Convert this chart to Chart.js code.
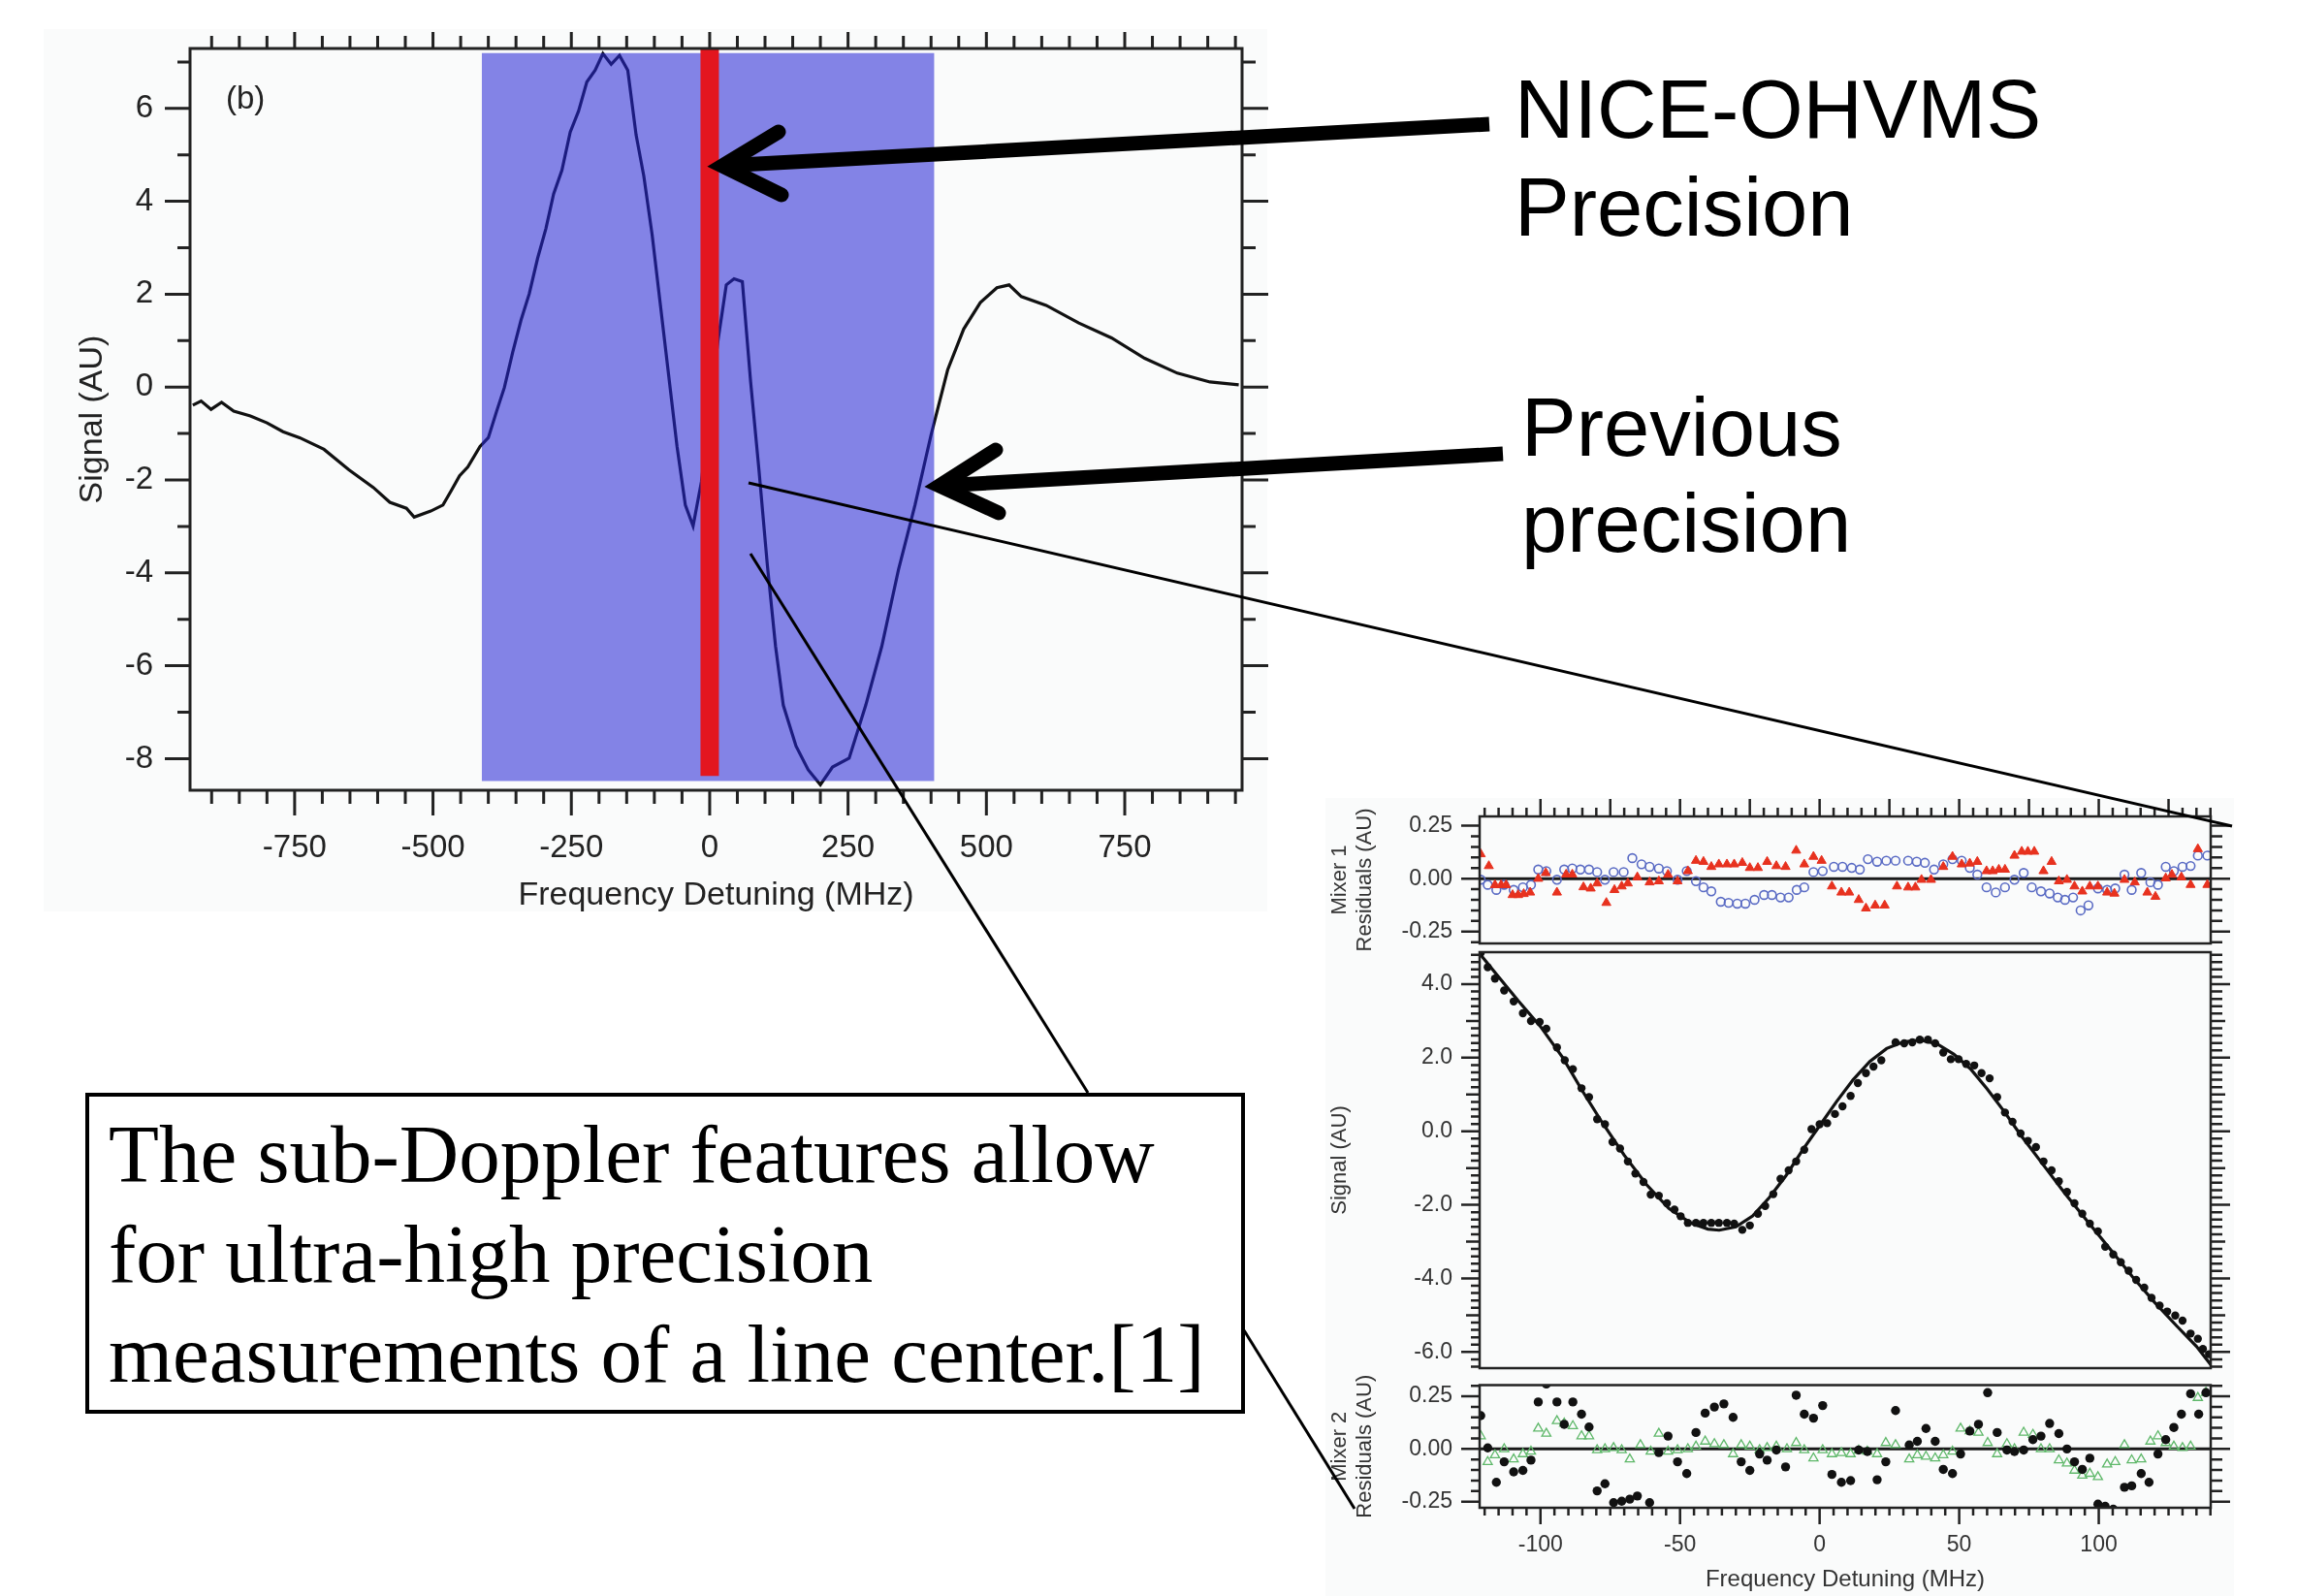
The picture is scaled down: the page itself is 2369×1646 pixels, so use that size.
<!DOCTYPE html>
<html>
<head>
<meta charset="utf-8">
<script src="https://cdn.jsdelivr.net/npm/chart.js@4.4.1/dist/chart.umd.min.js"></script>
<style>
  html, body { margin: 0; padding: 0; background: #fff; }
  body { width: 2369px; height: 1646px; position: relative; overflow: hidden;
         font-family: "Liberation Sans", Arial, sans-serif; }
  canvas { position: absolute; }
  .panel { position: absolute; background: #fafbfb; }
  .note { position: absolute; font-size: 85px; color: #000; white-space: nowrap; }
  .box { position: absolute; left: 88px; top: 1127px; width: 1196px; height: 331px; box-sizing: border-box;
         border: 4px solid #000; background: #fff; padding: 8px 0 0 20px;
         font-family: "Liberation Serif", "Times New Roman", serif; font-size: 85px; line-height: 103px; white-space: nowrap; }
  svg { position: absolute; left: 0; top: 0; }
</style>
</head>
<body>
<div class="panel" style="left:45px;top:30px;width:1262px;height:910px"></div>
<div class="panel" style="left:1367px;top:823px;width:937px;height:823px"></div>

<canvas id="main" width="1320" height="960" style="left:0;top:0"></canvas>
<canvas id="mix1" width="960" height="190" style="left:1360px;top:800px"></canvas>
<canvas id="sig" width="960" height="450" style="left:1360px;top:975px"></canvas>
<canvas id="mix2" width="960" height="231" style="left:1360px;top:1415px"></canvas>

<div class="note" style="left:233px;top:82px;font-size:33px;color:#222">(b)</div>

<svg width="2369" height="1646">
  <g stroke="#000" fill="none">
    <line x1="745" y1="171" x2="1536" y2="128" stroke-width="15"/>
    <polyline points="803,136 745,171 806,201" stroke-width="15" stroke-linecap="round" stroke-linejoin="miter"/>
    <line x1="969" y1="501" x2="1550" y2="468" stroke-width="15"/>
    <polyline points="1027,464 969,501 1030,529" stroke-width="15" stroke-linecap="round" stroke-linejoin="miter"/>
    <line x1="772" y1="498" x2="2302" y2="852" stroke-width="3"/>
    <line x1="774" y1="571" x2="1122" y2="1127" stroke-width="3"/>
    <line x1="1283" y1="1372" x2="1397" y2="1556" stroke-width="3"/>
  </g>
</svg>

<div class="note" style="left:1562px;top:62px;line-height:101px">NICE-OHVMS<br>Precision</div>
<div class="note" style="left:1569px;top:391px;line-height:99px">Previous<br>precision</div>
<div class="box">The sub-Doppler features allow<br>for ultra-high precision<br>measurements of a line center.[1]</div>

<script>
// ---- main spectrum (b) ----
const mainFreq = [-934,-919,-901,-882,-860,-830,-800,-771,-741,-697,-652,-608,-578,-548,-534,-504,-482,-467,-452,-437,
  -415,-400,-385,-371,-356,-341,-326,-311,-296,-282,-267,-252,-237,-222,-207,-193,-178,-163,-148,-133,
  -119,-104,-89,-74,-59,-44,-30,-15,0,15,30,44,59,74,89,104,119,133,156,178,
  200,222,252,282,311,341,371,400,430,459,489,519,541,563,608,667,726,786,845,904,956];
const mainSignal = [-0.39,-0.30,-0.48,-0.33,-0.52,-0.62,-0.77,-0.96,-1.09,-1.34,-1.78,-2.16,-2.48,-2.61,-2.80,-2.67,-2.54,-2.23,-1.91,-1.72,
  -1.28,-1.09,-0.52,-0.01,0.75,1.44,2.01,2.77,3.41,4.16,4.67,5.49,5.94,6.57,6.82,7.18,6.95,7.14,6.82,5.43,
  4.54,3.28,1.76,0.24,-1.28,-2.54,-2.99,-2.04,-0.52,1.0,2.20,2.33,2.27,0.11,-1.78,-3.81,-5.58,-6.85,-7.73,-8.24,
  -8.56,-8.18,-7.99,-6.85,-5.58,-3.94,-2.54,-1.03,0.37,1.25,1.82,2.14,2.20,1.95,1.76,1.38,1.06,0.62,0.30,0.11,0.05];
const mainXTicks = [-750,-500,-250,0,250,500,750];
const mainYTicks = [-8,-6,-4,-2,0,2,4,6];
const prevBandFreq = [-412, 406];      // previous precision window
const prevBandSignal = [-8.48, 7.19];
const niceFreq = 0;                    // NICE-OHVMS line centre
const niceSpan = [-8.37, 7.29];

// ---- inset: mixer 1 residuals ----
const m1RedX = [-121.4,-118.5,-116.3,-114.1,-112.3,-110,-108,-106,-103.7,-100.8,-98.1,-94.1,-90.8,-88.6,-84.6,-82,-79.7,-76.4,-73.5,-70.9,-68.7,-65.3,-60.9,-57.6,-54.3,-50.9,-47.2,-44.3,-41.6,-38.8,-36.1,-33.2,-30.6,-27.7,-25,-22.1,-18.8,-15.5,-12.2,-8.4,-5.5,-2.2,0.7,4.4,7.8,10.6,14,16.6,19.9,23.3,27.7,31.7,34.3,36.5,39.9,44.3,47.6,50.9,53.8,56.5,59.8,62,64.2,66.4,69.8,72.4,74.6,76.9,80.2,83.1,85.7,88.6,91.3,94.1,96.8,99.7,103,105.6,109.2,112.9,117.4,120.3,124,126.2,129.6,132.9,135.5,138.9];
const m1RedY = [0.116,0.06,-0.03,-0.03,-0.03,-0.077,-0.077,-0.072,-0.065,0,0.027,-0.065,0.02,0.02,-0.04,-0.046,-0.022,-0.114,-0.053,-0.036,-0.022,0.007,-0.017,-0.012,0.019,-0.012,0.036,0.085,0.08,0.056,0.068,0.068,0.068,0.075,0.051,0.051,0.08,0.06,0.056,0.133,0.068,0.104,0.085,-0.036,-0.065,-0.065,-0.1,-0.14,-0.126,-0.126,-0.036,-0.041,-0.041,-0.005,-0.005,0.056,0.104,0.068,0.072,0.08,0.036,0.036,0.043,0.043,0.109,0.128,0.128,0.128,0.036,0.08,-0.012,-0.005,-0.036,-0.06,-0.036,-0.036,-0.065,-0.07,-0.005,-0.017,-0.065,-0.085,0.002,0.019,0.007,-0.029,0.14,-0.029];
const m1BlueX = [-121.4,-118.9,-115.8,-113,-109.6,-106.3,-103.4,-100.8,-97.9,-94.1,-91.5,-88.6,-85.7,-82.6,-79.7,-76.9,-73.8,-70.2,-67.1,-63.8,-60.9,-57.6,-54.7,-50.9,-47.6,-44.3,-41.6,-38.8,-35.4,-32.6,-29.5,-26.6,-23.3,-19.9,-17.1,-14,-11.1,-8.2,-5.5,-2.2,1.1,5.1,8.2,11.5,14.4,17.3,20.6,23.9,27.2,31.7,34.8,37.7,41,44.3,47.6,50.9,53.8,56.5,59.8,63.1,66.4,69.8,73.1,76,79.3,82.4,85.3,87.9,90.8,93.5,96.3,99.7,103,105.9,109.2,111.8,115.2,118.5,121.2,124,126.9,130,132.9,135.5,138.9];
const m1BlueY = [-0.005,-0.029,-0.053,-0.029,-0.053,-0.041,-0.029,0.043,0.036,-0.005,0.043,0.048,0.043,0.043,0.031,-0.005,0.031,0.031,0.097,0.068,0.056,0.048,0.036,-0.005,0.036,-0.012,-0.041,-0.06,-0.109,-0.114,-0.118,-0.118,-0.1,-0.077,-0.077,-0.089,-0.089,-0.053,-0.041,0.031,0.036,0.056,0.056,0.051,0.043,0.092,0.08,0.085,0.085,0.085,0.08,0.075,0.043,0.068,0.092,0.085,0.051,0.019,-0.041,-0.065,-0.041,-0.005,0.027,-0.041,-0.06,-0.07,-0.089,-0.1,-0.089,-0.15,-0.126,-0.046,-0.053,-0.046,0.019,-0.053,0.027,-0.017,-0.029,0.056,0.036,0.056,0.06,0.109,0.109];

// ---- inset: signal and fit ----
const sigX = [-121.4,-118.9,-116.3,-113,-109.6,-106.3,-103.4,-100.3,-97.9,-94.1,-91.3,-88.4,-85.3,-82.6,-79.7,-76.9,-74.2,-71.5,-68.7,-66,-63.1,-60.5,-57.6,-54.7,-52,-49.8,-47.2,-44.3,-41.6,-38.8,-36.1,-33.2,-30.6,-27.7,-25,-22.1,-19.5,-16.6,-14,-11.1,-8.4,-5.5,-2.9,0,2.7,5.5,8.2,11.1,13.7,16.6,19.3,22.1,27.2,30.3,33.2,35.9,38.8,41.4,44.3,47,49.8,52.5,55.4,58,60.9,63.6,66.4,69.1,72,74.6,77.5,80.2,83.1,85.7,88.6,91.3,94.1,96.8,99.7,102.3,105.2,107.9,110.7,113.4,116.3,118.9,121.8,124.5,127.4,130,132.9,135.5,137.3,139.5];
const sigY = [4.85,4.46,4.15,3.83,3.53,3.21,3.0,2.97,2.79,2.28,1.93,1.69,1.17,0.93,0.33,0.19,-0.29,-0.47,-0.82,-1.15,-1.38,-1.72,-1.75,-1.96,-2.13,-2.31,-2.49,-2.49,-2.49,-2.49,-2.49,-2.49,-2.51,-2.68,-2.56,-2.24,-2.03,-1.71,-1.29,-1.06,-0.82,-0.5,0.06,0.19,0.22,0.47,0.68,0.96,1.31,1.58,1.76,1.93,2.42,2.39,2.42,2.49,2.49,2.39,2.14,1.96,1.96,1.83,1.79,1.58,1.44,0.93,0.51,0.26,-0.06,-0.26,-0.43,-0.82,-1.06,-1.36,-1.65,-1.96,-2.24,-2.51,-2.72,-3.14,-3.35,-3.56,-3.79,-4.04,-4.25,-4.53,-4.74,-4.9,-5.01,-5.15,-5.5,-5.64,-5.92,-6.06];
const fitX = [-122,-115,-108,-100,-92,-85,-78,-70,-62,-54,-46,-40,-36,-30,-24,-18,-12,-6,0,6,12,18,24,30,36,42,48,54,60,66,72,80,88,96,104,112,120,128,135,141];
const fitY = [4.85,4.2,3.55,2.85,2.0,1.1,0.25,-0.65,-1.45,-2.1,-2.5,-2.66,-2.69,-2.6,-2.3,-1.8,-1.2,-0.5,0.15,0.8,1.4,1.9,2.25,2.43,2.48,2.38,2.1,1.7,1.15,0.55,-0.1,-0.9,-1.7,-2.45,-3.2,-3.95,-4.65,-5.3,-5.85,-6.43];

// ---- inset: mixer 2 residuals ----
const m2BlackX = [-121.4,-118.9,-115.8,-113,-109.6,-106.3,-103.4,-100.8,-97.9,-94.1,-91.5,-88.4,-85.3,-82.6,-79.7,-76.9,-73.8,-70.9,-68,-65.3,-60.9,-57.6,-54.3,-50.9,-47.6,-44.3,-41,-37.7,-34.3,-31,-28.1,-25,-21.5,-18.8,-15.5,-12.2,-8.4,-5.5,-2.2,1.1,4.4,7.8,11.1,14,17.1,20.6,23.7,27.2,32.1,35,38.1,41.4,44.3,47.6,50.5,53.8,56.9,60.2,63.6,67.1,69.8,73.1,76.4,79.3,82.4,85.7,88.6,91.3,94.1,96.8,99.7,102.3,105.2,109.2,111.8,115.2,118,121.2,124,126.9,129.6,132.9,135.8,138.4];
const m2BlackY = [0.158,0.005,-0.158,-0.061,-0.109,-0.102,-0.053,0.223,0.308,0.223,0.117,0.223,0.165,0.104,-0.199,-0.165,-0.255,-0.248,-0.238,-0.223,-0.255,-0.017,0.061,-0.061,-0.117,0.078,0.17,0.199,0.214,0.15,-0.061,-0.102,-0.024,-0.053,-0.005,-0.085,0.255,0.165,0.146,0.206,-0.121,-0.158,-0.15,-0.005,-0.012,-0.146,-0.061,0.182,0.019,0.036,0.097,0.036,-0.097,-0.117,-0.024,0.085,0.117,0.267,0.078,-0.005,-0.012,-0.005,0.044,0.061,0.121,0.073,0,-0.061,-0.097,-0.044,-0.262,-0.272,-0.286,-0.182,-0.175,-0.117,-0.158,-0.024,0.044,0.102,0.165,0.262,0.165,0.267];
const m2GreenX = [-121.4,-118.9,-116.3,-113,-109.6,-106.3,-103.4,-100.8,-97.9,-94.1,-91.5,-88.4,-85.3,-82.6,-79.7,-76.9,-73.8,-70.9,-68,-64.2,-60.5,-57.6,-54.3,-50.9,-47.2,-44.3,-41,-37.7,-34.3,-31,-28.1,-25,-21.5,-18.8,-15.5,-11.7,-8.4,-5.5,-2.2,1.1,4.4,7.8,11.1,14,17.1,20.6,23.7,27.2,32.1,35,38.1,41.4,44.3,47.6,50.5,53.8,56.9,60.2,63.6,67.1,69.8,73.1,76.4,79.3,82.4,85.7,88.6,91.3,94.1,96.8,99.7,103,105.9,109.2,111.8,115.2,118.5,121.2,124,126.9,130,132.9,135.5,138.4];
const m2GreenY = [0.061,-0.061,-0.029,0,-0.049,-0.024,-0.012,0.097,0.073,0.133,0.121,0.109,0.061,0.061,-0.005,0,0.005,-0.005,-0.049,0.019,-0.012,0.073,-0.012,-0.005,0,0.012,0.036,0.024,0.019,-0.024,0.019,0.012,-0.005,0.005,0.012,0,0.029,-0.005,-0.044,-0.005,-0.024,-0.019,-0.024,-0.007,-0.012,-0.024,0.029,0.019,-0.049,-0.029,-0.036,-0.044,-0.029,-0.012,0.097,0.085,0.078,0.029,-0.024,0.024,0,0.078,0.068,0,0,-0.053,-0.068,-0.102,-0.126,-0.117,-0.133,-0.073,-0.061,0.019,-0.053,-0.049,0.036,0.061,0.029,0.012,0.005,0.012,0.243,0.267];

const insetRange = [-121.8, 140.1];
const insetXTicks = [-100,-50,0,50,100];
const residTicks = [-0.25, 0, 0.25];
const sigTicks = [-6, -4, -2, 0, 2, 4];

const pts = (xs, ys) => xs.slice(0, Math.min(xs.length, ys.length)).map((x, i) => ({x, y: ys[i]}));

Chart.defaults.font.family = '"Liberation Sans", Arial, sans-serif';
Chart.defaults.color = '#222';

// frame + major/minor ticks on the chosen sides, placed with the chart's own scales
const frameTicks = {
  id: 'frameTicks',
  afterDatasetsDraw(chart, args, o) {
    const {ctx, chartArea: a, scales: {x, y}} = chart;
    const marks = (sc, s) => {
      const out = [];
      const n0 = Math.ceil(sc.min / s.minor - 1e-6), n1 = Math.floor(sc.max / s.minor + 1e-6);
      for (let n = n0; n <= n1; n++) {
        const v = n * s.minor;
        const on = step => step && Math.abs(v / step - Math.round(v / step)) < 1e-6;
        out.push({p: sc.getPixelForValue(v), k: on(s.major) ? 1 : on(s.mid) ? 2 : 0});
      }
      return out;
    };
    ctx.save();
    ctx.strokeStyle = '#222';
    ctx.lineWidth = o.width;
    ctx.strokeRect(a.left, a.top, a.right - a.left, a.bottom - a.top);
    ctx.beginPath();
    marks(x, o.x).forEach(t => {
      if (o.bottom) { ctx.moveTo(t.p, a.bottom); ctx.lineTo(t.p, a.bottom + o.bottom[t.k]); }
      if (o.top) { ctx.moveTo(t.p, a.top); ctx.lineTo(t.p, a.top - o.top[t.k]); }
    });
    marks(y, o.y).forEach(t => {
      if (o.left) { ctx.moveTo(a.left, t.p); ctx.lineTo(a.left - o.left[t.k], t.p); }
      if (o.right) { ctx.moveTo(a.right, t.p); ctx.lineTo(a.right + o.right[t.k], t.p); }
    });
    ctx.stroke();
    ctx.restore();
  }
};

// keep label padding from pushing the plot area in
const noEdgePad = s => { s.paddingTop = 0; s.paddingBottom = 0; s.paddingLeft = 0; s.paddingRight = 0; };

new Chart(document.getElementById('main'), {
  type: 'scatter',
  data: {
    datasets: [
      { data: pts(mainFreq, mainSignal), showLine: true, borderColor: '#111', borderWidth: 3.2,
        pointRadius: 0, tension: 0, order: 3 },
      { data: pts(prevBandFreq, [prevBandSignal[1], prevBandSignal[1]]), showLine: true, borderWidth: 0,
        pointRadius: 0, fill: {value: prevBandSignal[0]}, backgroundColor: 'rgba(38,38,214,0.56)', order: 2 },
      { data: pts([niceFreq, niceFreq], niceSpan), showLine: true, borderColor: '#e3161f', borderWidth: 19,
        borderCapStyle: 'butt', pointRadius: 0, order: 1 }
    ]
  },
  options: {
    responsive: false, animation: false, devicePixelRatio: 1,
    layout: { padding: { left: 0, top: 50, right: 39, bottom: 0 } },
    plugins: {
      legend: { display: false }, tooltip: { enabled: false },
      frameTicks: { width: 3, x: {minor: 50, major: 250}, y: {minor: 1, major: 2},
        bottom: [14, 26], top: [13, 17], left: [13, 26], right: [14, 27] }
    },
    scales: {
      x: { type: 'linear', min: -939, max: 962,
           grid: { display: false, drawTicks: false }, border: { display: false },
           afterBuildTicks: s => { s.ticks = mainXTicks.map(v => ({value: v})); },
           afterFit: s => { s.height = 145; noEdgePad(s); },
           ticks: { font: { size: 33 }, color: '#222', padding: 40, autoSkip: false, maxRotation: 0 },
           title: { display: true, text: 'Frequency Detuning (MHz)', font: { size: 34 }, color: '#222',
                    padding: { top: 0, bottom: 16 } } },
      y: { min: -8.68, max: 7.29,
           grid: { display: false, drawTicks: false }, border: { display: false },
           afterBuildTicks: s => { s.ticks = mainYTicks.map(v => ({value: v})); },
           afterFit: s => { s.width = 196; noEdgePad(s); },
           ticks: { font: { size: 33 }, color: '#222', padding: 38, autoSkip: false },
           title: { display: true, text: 'Signal (AU)', font: { size: 34 }, color: '#222',
                    padding: { top: 75, bottom: 0 } } }
    }
  },
  plugins: [frameTicks]
});

function insetPanel(id, cfg) {
  return new Chart(document.getElementById(id), {
    type: 'scatter',
    data: { datasets: cfg.datasets },
    options: {
      responsive: false, animation: false, devicePixelRatio: 1,
      layout: { padding: cfg.pad },
      plugins: { legend: { display: false }, tooltip: { enabled: false }, frameTicks: cfg.frame },
      scales: {
        x: { type: 'linear', min: insetRange[0], max: insetRange[1], display: cfg.showX,
             grid: { display: false, drawTicks: false }, border: { display: false },
             afterBuildTicks: s => { s.ticks = insetXTicks.map(v => ({value: v})); },
             afterFit: s => { s.height = cfg.showX ? 91 : 0; noEdgePad(s); },
             ticks: { font: { size: 23 }, color: '#333', padding: 25, autoSkip: false, maxRotation: 0 },
             title: { display: true, text: 'Frequency Detuning (MHz)', font: { size: 24 }, color: '#333',
                      padding: { top: 0, bottom: 2 } } },
        y: { min: cfg.yRange[0], max: cfg.yRange[1],
             grid: { display: false, drawTicks: false }, border: { display: false },
             afterBuildTicks: s => { s.ticks = cfg.yTicks.map(v => ({value: v})); },
             afterFit: s => { s.width = 166; noEdgePad(s); },
             ticks: { font: { size: 23 }, color: '#333', padding: 28, autoSkip: false,
                      callback: v => v.toFixed(cfg.digits) },
             title: { display: true, text: cfg.title, font: { size: 22 }, color: '#333',
                      padding: { top: 8.5, bottom: 0 } } }
      }
    },
    plugins: [frameTicks]
  });
}

const zeroLine = () => ({ data: pts(insetRange, [0, 0]), showLine: true, borderColor: '#1a1a1a',
  borderWidth: 3, pointRadius: 0, order: 5 });

insetPanel('mix1', {
  pad: { left: 0, top: 42, right: 40, bottom: 17 }, showX: false,
  yRange: [-0.306, 0.294], yTicks: residTicks, digits: 2, title: ['Mixer 1', 'Residuals (AU)'],
  frame: { width: 2.5, x: {minor: 5, major: 25}, y: {minor: 0.05, major: 0.25},
           top: [9, 18], left: [9, 19], right: [12, 20] },
  datasets: [
    zeroLine(),
    { data: pts(m1BlueX, m1BlueY), pointStyle: 'circle', pointRadius: 4.4, borderWidth: 1.6,
      pointBorderColor: '#5a6bc4', pointBackgroundColor: 'rgba(0,0,0,0)', order: 2 },
    { data: pts(m1RedX, m1RedY), pointStyle: 'triangle', pointRadius: 5.4, borderWidth: 1,
      pointBorderColor: '#e6301f', pointBackgroundColor: '#e8321e', order: 1 }
  ]
});

insetPanel('sig', {
  pad: { left: 0, top: 7, right: 40, bottom: 14 }, showX: false,
  yRange: [-6.44, 4.87], yTicks: sigTicks, digits: 1, title: 'Signal (AU)',
  frame: { width: 2.5, x: {minor: 5, major: 25}, y: {minor: 0.2, major: 2, mid: 1},
           left: [9, 19, 14], right: [12, 20, 15] },
  datasets: [
    { data: pts(fitX, fitY), showLine: true, borderColor: '#111', borderWidth: 3.2, pointRadius: 0, order: 2 },
    { data: pts(sigX, sigY), pointStyle: 'circle', pointRadius: 4.2, borderWidth: 0,
      pointBackgroundColor: '#111', order: 1 }
  ]
});

insetPanel('mix2', {
  pad: { left: 0, top: 13.5, right: 40, bottom: 0 }, showX: true,
  yRange: [-0.279, 0.303], yTicks: residTicks, digits: 2, title: ['Mixer 2', 'Residuals (AU)'],
  frame: { width: 2.5, x: {minor: 5, major: 50}, y: {minor: 0.05, major: 0.25},
           bottom: [8, 17], left: [9, 19], right: [12, 20] },
  datasets: [
    zeroLine(),
    { data: pts(m2GreenX, m2GreenY), pointStyle: 'triangle', pointRadius: 5.4, borderWidth: 1.3,
      pointBorderColor: '#5fb86a', pointBackgroundColor: 'rgba(0,0,0,0)', order: 2 },
    { data: pts(m2BlackX, m2BlackY), pointStyle: 'circle', pointRadius: 4.7, borderWidth: 0,
      pointBackgroundColor: '#111', order: 1 }
  ]
});
</script>
</body>
</html>
